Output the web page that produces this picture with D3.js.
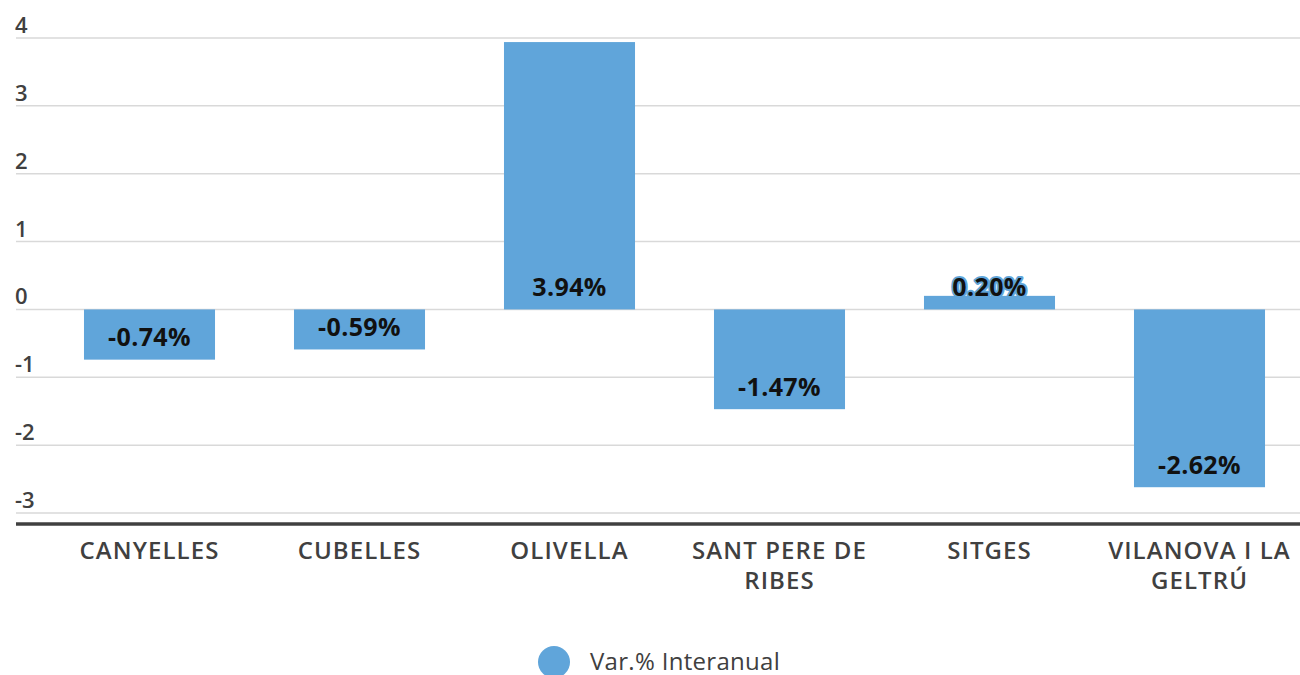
<!DOCTYPE html>
<html>
<head>
<meta charset="utf-8">
<script src="https://cdn.jsdelivr.net/npm/d3@7"></script>
<style>
  body { margin: 0; background: #fff; }
  svg { display: block; font-family: "Open Sans", sans-serif; }
</style>
</head>
<body>
<script>
// data
const municipis = ["CANYELLES", "CUBELLES", "OLIVELLA", "SANT PERE DE RIBES", "SITGES", "VILANOVA I LA GELTRÚ"];
const variacio = [-0.74, -0.59, 3.94, -1.47, 0.20, -2.62];
const yTicks = [4, 3, 2, 1, 0, -1, -2, -3];
const serieName = "Var.% Interanual";

const width = 1300;
const height = 675;
const barColor = "#60a5da";
const textColor = "#404040";

const svg = d3.select("body")
    .append("svg")
    .attr("width", width)
    .attr("height", height)
    .attr("viewBox", [0, 0, width, height]);

const y = d3.scaleLinear()
    .domain([-3, 4])
    .range([513, 38]);

const x = d3.scaleBand()
    .domain(municipis)
    .range([44.5, 1304.5])
    .paddingInner(0.376)
    .paddingOuter(0.188);

// gridlines + y labels
const grid = svg.append("g");
grid.selectAll("line")
    .data(yTicks)
    .join("line")
    .attr("x1", 16)
    .attr("x2", width)
    .attr("y1", d => y(d))
    .attr("y2", d => y(d))
    .attr("stroke", "#d9d9d9")
    .attr("stroke-width", 1.5);

grid.selectAll("text")
    .data(yTicks)
    .join("text")
    .attr("x", 15)
    .attr("y", d => y(d) - 5)
    .attr("fill", textColor)
    .attr("font-size", 22)
    .attr("font-weight", 600)
    .text(d => d);

// bars
svg.append("g")
    .selectAll("rect")
    .data(variacio)
    .join("rect")
    .attr("x", (d, i) => x(municipis[i]))
    .attr("width", x.bandwidth())
    .attr("y", d => y(Math.max(0, d)))
    .attr("height", d => Math.abs(y(d) - y(0)))
    .attr("fill", barColor);

// value labels, near bottom edge of each bar
svg.append("g")
    .selectAll("text")
    .data(variacio)
    .join("text")
    .attr("x", (d, i) => x(municipis[i]) + x.bandwidth() / 2)
    .attr("y", d => y(Math.min(0, d)) - 22)
    .attr("dy", "0.35em")
    .attr("text-anchor", "middle")
    .attr("font-size", 25)
    .attr("letter-spacing", 0.4)
    .attr("font-weight", 700)
    .attr("fill", "#111")
    .attr("stroke", d => (y(0) - y(d)) < 40 && d > 0 ? barColor : "none")
    .attr("stroke-width", 4)
    .attr("paint-order", "stroke")
    .attr("stroke-linejoin", "round")
    .text(d => d.toFixed(2) + "%");

// x axis line
svg.append("line")
    .attr("x1", 16)
    .attr("x2", width)
    .attr("y1", 524)
    .attr("y2", 524)
    .attr("stroke", "#404040")
    .attr("stroke-width", 3.5);

// category labels (wrapped)
const xl = svg.append("g")
    .selectAll("text")
    .data(municipis)
    .join("text")
    .attr("x", d => x(d) + x.bandwidth() / 2)
    .attr("y", 559)
    .attr("text-anchor", "middle")
    .attr("font-size", 24)
    .attr("letter-spacing", 1.1)
    .attr("font-weight", 600)
    .attr("fill", textColor);

xl.each(function(d) {
    const t = d3.select(this);
    const words = d.split(" ");
    let line = [];
    let tspan = t.append("tspan").attr("x", t.attr("x")).attr("dy", 0);
    for (const w of words) {
        line.push(w);
        tspan.text(line.join(" "));
        if (tspan.node().getComputedTextLength() > 200 && line.length > 1) {
            line.pop();
            tspan.text(line.join(" "));
            line = [w];
            tspan = t.append("tspan").attr("x", t.attr("x")).attr("dy", 30).text(w);
        }
    }
});

// legend
const leg = svg.append("g");
leg.append("circle")
    .attr("cx", 554)
    .attr("cy", 662)
    .attr("r", 16)
    .attr("fill", barColor);
leg.append("text")
    .attr("x", 590)
    .attr("y", 662)
    .attr("dy", "0.35em")
    .attr("font-size", 24)
    .attr("letter-spacing", 0.3)
    .attr("fill", textColor)
    .text(serieName);
</script>
</body>
</html>
